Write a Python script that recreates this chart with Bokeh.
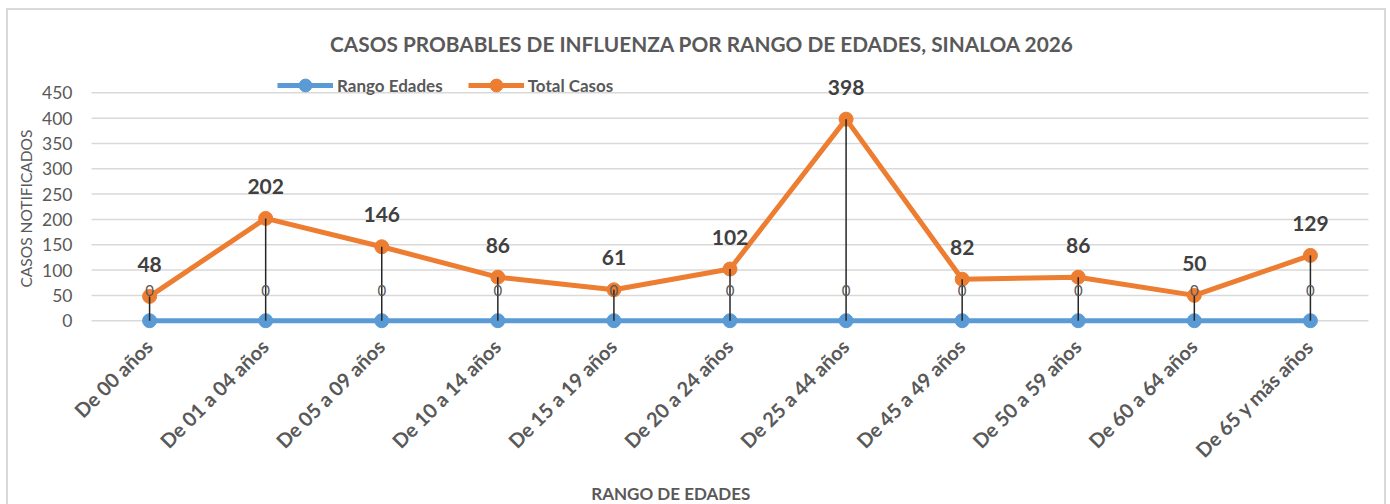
import math
from bokeh.plotting import figure
from bokeh.models import (ColumnDataSource, FactorRange, Range1d, FixedTicker,
                          LabelSet, Label, Legend, LegendItem, Title)
from bokeh.core.properties import value
from bokeh.embed import file_html
from bokeh.resources import INLINE

categories = ["De 00 años", "De 01 a 04 años", "De 05 a 09 años", "De 10 a 14 años",
              "De 15 a 19 años", "De 20 a 24 años", "De 25 a 44 años", "De 45 a 49 años",
              "De 50 a 59 años", "De 60 a 64 años", "De 65 y más años"]
rango_edades = [0, 0, 0, 0, 0, 0, 0, 0, 0, 0, 0]
total_casos = [48, 202, 146, 86, 61, 102, 398, 82, 86, 50, 129]
y_ticks = [0, 50, 100, 150, 200, 250, 300, 350, 400, 450]

title_text = "CASOS PROBABLES DE INFLUENZA POR RANGO DE EDADES, SINALOA 2026"
x_title = "RANGO DE EDADES"
y_title = "CASOS NOTIFICADOS"

FONT = "Lato"
GRAY = "#595959"
DARK = "#404040"
BLUE = "#5B9BD5"
ORANGE = "#ED7D31"

src = ColumnDataSource(dict(cat=categories, rango=rango_edades, total=total_casos,
                            rango_txt=[str(v) for v in rango_edades],
                            total_txt=[str(v) for v in total_casos]))
n_cat = len(categories)
grid_src = ColumnDataSource(dict(y=y_ticks, x0=[0] * len(y_ticks), x1=[n_cat] * len(y_ticks)))

# frame covers the full canvas height; y range chosen so 0..450 sits where the reference has it
p = figure(width=1380, height=496,
           x_range=FactorRange(*categories, range_padding=0.0314, range_padding_units="percent"),
           y_range=Range1d(-366.8, 612.5), output_backend="svg", toolbar_location=None,
           min_border_left=63, min_border_right=0, min_border_top=0, min_border_bottom=0)
p.styles = {"margin-left": "6px", "margin-top": "8px",
            "border-left": "2px solid #D9D9D9", "border-top": "2px solid #D9D9D9",
            "border-right": "2px solid #D9D9D9", "box-sizing": "border-box"}
p.outline_line_color = None
p.background_fill_color = "white"
p.border_fill_color = "white"

# grid lines limited to the plot area (category span)
p.xgrid.grid_line_color = None
p.ygrid.grid_line_color = None
p.segment(x0="x0", y0="y", x1="x1", y1="y", source=grid_src,
          line_color="#D9D9D9", line_width=1.5, level="underlay")

# y axis
p.yaxis.ticker = FixedTicker(ticks=y_ticks)
p.yaxis.axis_line_color = None
p.yaxis.major_tick_line_color = None
p.yaxis.minor_tick_line_color = None
p.yaxis.major_label_text_font = FONT
p.yaxis.major_label_text_font_size = "17.5px"
p.yaxis.major_label_text_color = GRAY
p.yaxis.major_label_standoff = -7

p.add_layout(Title(text=y_title, align="left", offset=219, standoff=10,
                   text_font=FONT, text_font_size="15.5px", text_font_style="normal",
                   text_color=GRAY), "left")

# x axis drawn as labels inside the frame
p.xaxis.visible = False

# series
bl = p.line("cat", "rango", source=src, line_color=BLUE, line_width=5)
bs = p.scatter("cat", "rango", source=src, size=14, fill_color=BLUE, line_color=BLUE)
ol = p.line("cat", "total", source=src, line_color=ORANGE, line_width=5)
os_ = p.scatter("cat", "total", source=src, size=14, fill_color=ORANGE, line_color=ORANGE)

# drop lines
p.segment(x0="cat", y0="rango", x1="cat", y1="total", source=src,
          line_color="#262626", line_width=1.5)

# category labels
p.add_layout(LabelSet(x="cat", y="rango", text="cat", source=src, y_offset=-22, x_offset=-1,
                      angle=45, angle_units="deg", text_align="right", text_baseline="middle",
                      text_font=value(FONT), text_font_size=value("20px"),
                      text_font_style="bold", text_color=GRAY))

# data labels
p.add_layout(LabelSet(x="cat", y="total", text="total_txt", source=src, y_offset=32,
                      text_align="center", text_baseline="middle",
                      text_font=value(FONT), text_font_size=value("21px"),
                      text_font_style="bold", text_color=DARK))
p.add_layout(LabelSet(x="cat", y="rango", text="rango_txt", source=src, y_offset=30,
                      text_align="center", text_baseline="middle",
                      text_font=value(FONT), text_font_size=value("15px"),
                      text_color=GRAY))

# legend
legend = Legend(items=[LegendItem(label="Rango Edades", renderers=[bl, bs]),
                       LegendItem(label="Total Casos", renderers=[ol, os_])],
                orientation="horizontal", location=(206, 405),
                glyph_width=56, glyph_height=32, label_standoff=4, spacing=25,
                padding=0, margin=0, border_line_alpha=0, background_fill_alpha=0,
                label_text_font=FONT, label_text_font_size="17px",
                label_text_font_style="bold", label_text_color=GRAY)
p.add_layout(legend, "center")

# title and x axis title
p.add_layout(Label(x=5.26, y=547, text=title_text, text_align="center",
                   text_baseline="middle", text_font=FONT, text_font_size="20.8px",
                   text_font_style="bold", text_color=GRAY))
p.add_layout(Label(x=4.99, y=-341, text=x_title, text_align="center",
                   text_baseline="middle", text_font=FONT, text_font_size="17px",
                   text_font_style="bold", text_color=GRAY))

open("out.html", "w").write(file_html(p, INLINE))
